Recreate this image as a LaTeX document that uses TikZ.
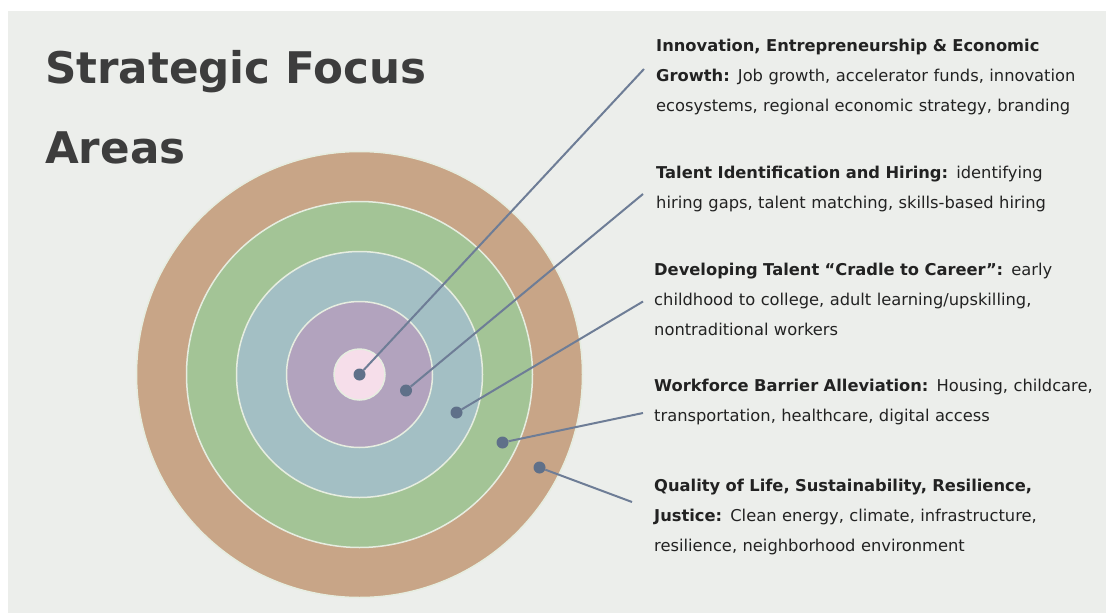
\documentclass[tikz,border=0pt]{standalone}
\usepackage{fontspec}
\setmainfont{DejaVu Sans}
\usepackage{xcolor}
\usepackage{tikz}

\definecolor{paper}{HTML}{ECEEEB}
\definecolor{tan}{HTML}{C8A587}
\definecolor{sage}{HTML}{A3C496}
\definecolor{mist}{HTML}{A3BFC4}
\definecolor{mauve}{HTML}{B2A3BE}
\definecolor{blush}{HTML}{F6DEEA}
\definecolor{ringline}{HTML}{E6EDE0}
\definecolor{dotblue}{HTML}{5F7089}
\definecolor{leadblue}{HTML}{6E7D96}
\definecolor{ink}{HTML}{222222}
\definecolor{titleink}{HTML}{3D3D3D}

\tikzset{
  ring/.style={draw=ringline, line width=1.5pt},
  pindot/.style={circle, fill=dotblue, inner sep=0pt, minimum size=12pt},
  leader/.style={draw=leadblue, line width=2pt},
  blurb/.style={anchor=base west, text width=460pt, align=left, inner sep=0pt,
    text=ink, font=\fontsize{16.3}{30}\selectfont},
  headline/.style={anchor=base west, inner sep=0pt, text=titleink,
    font=\fontsize{43.6}{50}\selectfont\bfseries}
}

\begin{document}
\begin{tikzpicture}[x=1pt, y=-1pt]
\useasboundingbox (0,0) rectangle (1106,613);
\fill[white] (0,0) rectangle (1106,613);
\fill[paper] (8,11) rectangle (1106,613);

\node[headline] (title1) at (45,83) {Strategic Focus};
\node[headline] (title2) at (45,163) {Areas};

\draw[ring, fill=tan] (359.5,374.5) circle (223);
\draw[ring, fill=sage] (359.5,374.5) circle (173);
\draw[ring, fill=mist] (359.5,374.5) circle (123);
\draw[ring, fill=mauve] (359.5,374.5) circle (73);
\draw[ring, fill=blush] (359.5,374.5) circle (25.5);

\node[pindot] (core) at (359.5,374.5) {};
\node[pindot] (talent) at (406,390.5) {};
\node[pindot] (cradle) at (456.5,412.5) {};
\node[pindot] (barrier) at (502.5,442.5) {};
\node[pindot] (quality) at (539.5,467.5) {};

\coordinate (coreend) at (644,69);
\coordinate (talentend) at (643,194);
\coordinate (cradleend) at (643,301.5);
\coordinate (barrierend) at (643,413);
\coordinate (qualityend) at (632,502);

\draw[leader] (core) -- (coreend);
\draw[leader] (talent) -- (talentend);
\draw[leader] (cradle) -- (cradleend);
\draw[leader] (barrier) -- (barrierend);
\draw[leader] (quality) -- (qualityend);

\node[blurb] (coretext) at (656,51.5) {\textbf{Innovation, Entrepreneurship \& Economic\\Growth:} Job growth, accelerator funds, innovation\\ecosystems, regional economic strategy, branding};
\node[blurb] (talenttext) at (656,178) {\textbf{Talent Identification and Hiring:} identifying\\hiring gaps, talent matching, skills-based hiring};
\node[blurb] (cradletext) at (654,275) {\textbf{Developing Talent “Cradle to Career”:} early\\childhood to college, adult learning/upskilling,\\nontraditional workers};
\node[blurb] (barriertext) at (654,391.5) {\textbf{Workforce Barrier Alleviation:} Housing, childcare,\\transportation, healthcare, digital access};
\node[blurb] (qualitytext) at (654,491.5) {\textbf{Quality of Life, Sustainability, Resilience,\\Justice:} Clean energy, climate, infrastructure,\\resilience, neighborhood environment};
\end{tikzpicture}
\end{document}
